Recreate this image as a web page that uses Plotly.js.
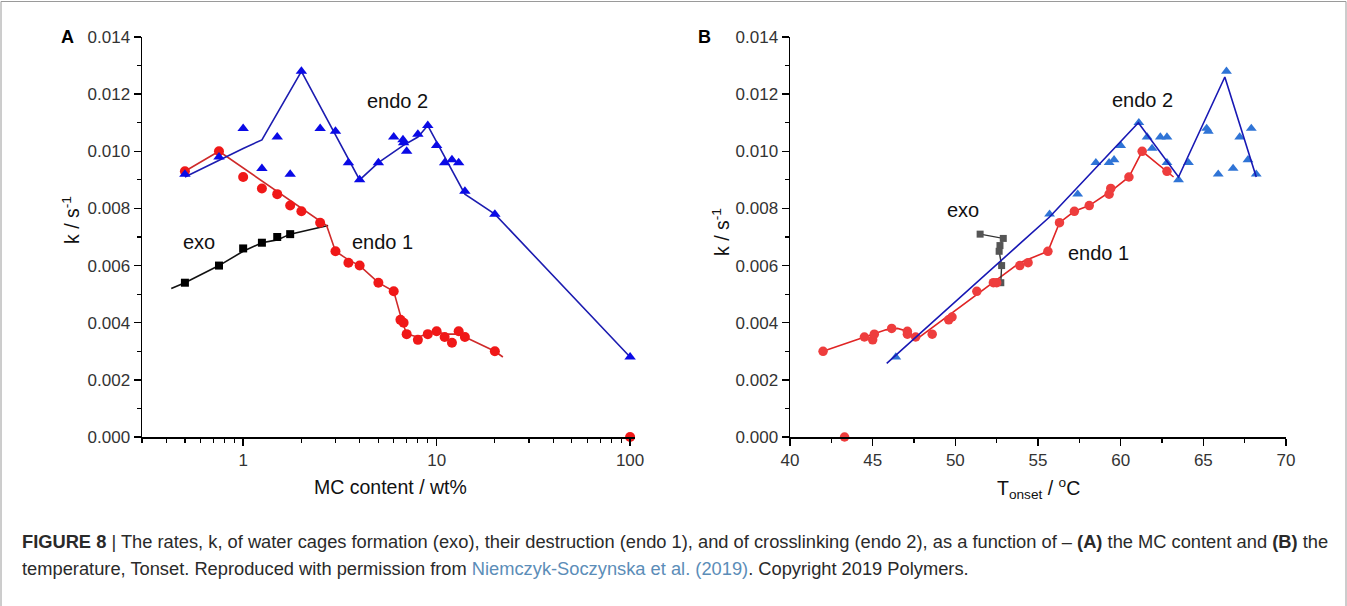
<!DOCTYPE html>
<html>
<head>
<meta charset="utf-8">
<script src="https://cdn.plot.ly/plotly-3.0.1.min.js"></script>
<style>
html,body{margin:0;padding:0;background:#fff;}
#chart{width:1347px;height:606px;}
</style>
</head>
<body>
<div id="chart"></div>
<script>
// ---------- Panel A: k vs MC content (log x) ----------
const mcEndo2 = [0.5,0.75,1,1.25,1.5,1.75,2,2.5,3,3.5,4,5,6,6.7,6.75,7,8,9,10,11,12,13,14,20,100];
const kEndo2A = [0.0092,0.0098,0.0108,0.0094,0.0105,0.0092,0.0128,0.0108,0.0107,0.0096,0.0090,0.0096,0.0105,0.0104,0.0103,0.0100,0.0106,0.0109,0.0102,0.0096,0.0097,0.0096,0.0086,0.0078,0.0028];
const mcEndo1 = [0.5,0.75,1,1.25,1.5,1.75,2,2.5,3,3.5,4,5,6,6.5,6.75,7,8,9,10,11,12,13,14,20,100];
const kEndo1A = [0.0093,0.0100,0.0091,0.0087,0.0085,0.0081,0.0079,0.0075,0.0065,0.0061,0.0060,0.0054,0.0051,0.0041,0.0040,0.0036,0.0034,0.0036,0.0037,0.0035,0.0033,0.0037,0.0035,0.0030,0.0000];
const mcExo = [0.5,0.75,1,1.25,1.5,1.75];
const kExoA = [0.0054,0.0060,0.0066,0.0068,0.0070,0.0071];
// guide lines, panel A
const lineEndo2A_x = [0.5,0.75,1,1.25,2,4,5,6.7,8,9,14,20,100];
const lineEndo2A_y = [0.0091,0.0097,0.0101,0.0104,0.0128,0.0090,0.0096,0.0102,0.0105,0.0109,0.0085,0.0078,0.0028];
const lineEndo1A_x = [0.5,0.75,2.7,3,3.5,4,5,6,6.6,7,8,9,10,11,13,14,20,22];
const lineEndo1A_y = [0.0093,0.0100,0.0074,0.0065,0.0062,0.0060,0.0054,0.0051,0.0041,0.0036,0.0035,0.0036,0.0037,0.0036,0.0036,0.0035,0.0030,0.0028];
const lineExoA_x = [0.425,0.5,0.75,1,1.25,1.5,1.75,2.75];
const lineExoA_y = [0.0052,0.0054,0.0060,0.0065,0.0068,0.0069,0.0071,0.0074];

// ---------- Panel B: k vs T onset ----------
const tEndo1 = [42,43.3,44.5,45,45.1,46.15,47.1,47.1,47.6,48.6,49.6,49.8,51.3,52.3,52.5,53.9,54.4,55.6,56.3,57.2,58.1,59.3,59.4,60.5,61.3,62.8];
const kEndo1B = [0.0030,0.0000,0.0035,0.0034,0.0036,0.0038,0.0037,0.0036,0.0035,0.0036,0.0041,0.0042,0.0051,0.0054,0.0054,0.0060,0.0061,0.0065,0.0075,0.0079,0.0081,0.0085,0.0087,0.0091,0.0100,0.0093];
const tEndo2 = [46.4,55.7,57.4,58.5,59.3,59.6,60.0,61.1,61.6,61.9,62.4,62.8,62.8,63.5,64.1,65.2,65.3,65.9,66.4,66.8,67.2,67.7,67.9,68.2];
const kEndo2B = [0.0028,0.0078,0.0085,0.0096,0.0096,0.0097,0.0102,0.0110,0.0105,0.0101,0.0105,0.0105,0.0096,0.0090,0.0096,0.0108,0.0107,0.0092,0.0128,0.0094,0.0105,0.0097,0.0108,0.0092];
const tExo = [51.5,52.9,52.7,52.65,52.8,52.75];
const kExoB = [0.0071,0.00695,0.0067,0.0065,0.0060,0.0054];
// guide lines, panel B
const lineEndo1B_x = [42,44.6,45.8,46.5,47.1,47.6,53.9,55.6,56.3,57.2,58.1,59.4,60.5,61.3,63.2];
const lineEndo1B_y = [0.0030,0.0035,0.00375,0.0038,0.0037,0.0034,0.0061,0.0065,0.0075,0.0079,0.0081,0.0086,0.0091,0.0100,0.0091];
const lineEndo2B_x = [45.85,55.7,61.07,63.5,66.3,68.2];
const lineEndo2B_y = [0.00258,0.0077,0.0110,0.0091,0.0126,0.0091];

const yTicks = [0,0.002,0.004,0.006,0.008,0.010,0.012,0.014];
const xTicksA = [1,10,100];
const xTickTextA = ['1','10','100'];
const xMinorA = [0.3,0.4,0.5,0.6,0.7,0.8,0.9,2,3,4,5,6,7,8,9,20,30,40,50,60,70,80,90];
const xTicksB = [40,45,50,55,60,65,70];

const FONT = 'Liberation Sans, Arial, Helvetica, sans-serif';

function line(x,y,color,xa,ya,w){
  return {x:x,y:y,mode:'lines',type:'scatter',xaxis:xa,yaxis:ya,
    line:{color:color,width:w||1.6},hoverinfo:'skip',showlegend:false};
}
function pts(x,y,sym,color,size,xa,ya){
  return {x:x,y:y,mode:'markers',type:'scatter',xaxis:xa,yaxis:ya,cliponaxis:false,
    marker:{symbol:sym,color:color,size:size,line:{width:0}},showlegend:false};
}

const traces = [
  line(lineExoA_x,lineExoA_y,'#111111','x','y',1.6),
  line(lineEndo1A_x,lineEndo1A_y,'#cf2a2a','x','y',1.6),
  line(lineEndo2A_x,lineEndo2A_y,'#1c1cb0','x','y',1.6),
  pts(mcExo,kExoA,'square','#000000',8,'x','y'),
  pts(mcEndo1,kEndo1A,'circle','#f01818',10,'x','y'),
  pts(mcEndo2,kEndo2A,'triangle-up','#0a0ae6',10,'x','y'),

  line(lineEndo1B_x,lineEndo1B_y,'#e02424','x2','y2',1.6),
  line(tExo,kExoB,'#333333','x2','y2',1.4),
  pts(tExo,kExoB,'square','#555555',7,'x2','y2'),
  pts(tEndo1,kEndo1B,'circle','#ee3d3d',9.5,'x2','y2'),
  pts(tEndo2,kEndo2B,'triangle-up','#2f74d6',9.5,'x2','y2'),
  line(lineEndo2B_x,lineEndo2B_y,'#1818b4','x2','y2',1.6)
];

const W = 1347, H = 606;
const px = v => v / W;
const py = v => 1 - v / H;

const tickFont = {family:FONT,size:17,color:'#333'};
const yAxisCommon = {
  range:[0,0.014], tickvals:yTicks, tickformat:'.3f',
  ticks:'outside', ticklen:7, tickwidth:1.5, tickcolor:'#000',
  minor:{dtick:0.001, ticks:'outside', ticklen:4, tickwidth:1.2, tickcolor:'#000', showgrid:false},
  showline:true, linecolor:'#000', linewidth:1.5,
  showgrid:false, zeroline:false, tickfont:tickFont, fixedrange:true
};

function note(text, x, y, size, extra){
  return Object.assign({text:text, x:px(x), y:py(y), xref:'paper', yref:'paper',
    xanchor:'center', yanchor:'middle', showarrow:false,
    font:{family:FONT, size:size, color:'#111'}}, extra||{});
}

const layout = {
  width:W, height:H,
  margin:{l:0,r:0,t:0,b:0},
  paper_bgcolor:'#fff', plot_bgcolor:'rgba(0,0,0,0)',
  showlegend:false,
  font:{family:FONT,color:'#222',size:14},
  xaxis:{
    type:'log', range:[Math.log10(0.3), Math.log10(106)],
    domain:[px(142), px(635)], anchor:'y',
    tickmode:'array', tickvals:xTicksA, ticktext:xTickTextA,
    ticks:'outside', ticklen:7, tickwidth:1.5, tickcolor:'#000',
    minor:{tickmode:'array', tickvals:xMinorA, ticks:'outside', ticklen:4, tickwidth:1.2, tickcolor:'#000', showgrid:false},
    showline:true, linecolor:'#000', linewidth:1.5,
    showgrid:false, zeroline:false, tickfont:tickFont, fixedrange:true
  },
  yaxis:Object.assign({domain:[py(437), py(37)], anchor:'x'}, yAxisCommon),
  xaxis2:{
    range:[40,70], domain:[px(790), px(1286)], anchor:'y2',
    tickvals:xTicksB,
    ticks:'outside', ticklen:7, tickwidth:1.5, tickcolor:'#000',
    minor:{dtick:2.5, ticks:'outside', ticklen:4, tickwidth:1.2, tickcolor:'#000', showgrid:false},
    showline:true, linecolor:'#000', linewidth:1.5,
    showgrid:false, zeroline:false, tickfont:tickFont, fixedrange:true
  },
  yaxis2:Object.assign({domain:[py(437), py(37)], anchor:'x2'}, yAxisCommon),
  shapes:[
    {type:'rect', xref:'paper', yref:'paper', x0:px(1), x1:px(1346), y0:-0.05, y1:py(1.5),
     line:{color:'#9a9a9a', width:1}, fillcolor:'rgba(0,0,0,0)', layer:'below'}
  ],
  annotations:[
    note('<b>A</b>', 67, 37, 18, {font:{family:FONT,size:18,color:'#000'}}),
    note('<b>B</b>', 704, 37, 18, {font:{family:FONT,size:18,color:'#000'}}),
    note('k / s<sup>-1</sup>', 71, 220, 19.5, {textangle:-90}),
    note('k / s<sup>-1</sup>', 721, 232, 19.5, {textangle:-90}),
    note('MC content / wt%', 390, 487, 19.5),
    note('T<sub>onset</sub> / <sup>o</sup>C', 1038, 488, 19.5),
    note('endo 2', 397, 101, 20),
    note('exo', 199, 242, 20),
    note('endo 1', 382, 242, 20),
    note('exo', 963, 210, 20),
    note('endo 2', 1142, 100, 20),
    note('endo 1', 1098, 253, 20),
    note('<b>FIGURE 8</b> | The rates, k, of water cages formation (exo), their destruction (endo 1), and of crosslinking (endo 2), as a function of \u2013 <b>(A)</b> the MC content and <b>(B)</b> the',
      20, 541, 18.3, {xanchor:'left', font:{family:FONT,size:18.3,color:'#2a2a2a'}}),
    note('temperature, Tonset. Reproduced with permission from <span style="color:#5b8db8">Niemczyk-Soczynska et al. (2019)</span>. Copyright 2019 Polymers.',
      20, 568, 18.3, {xanchor:'left', font:{family:FONT,size:18.3,color:'#2a2a2a'}})
  ]
};

Plotly.newPlot('chart', traces, layout, {staticPlot:true, displayModeBar:false});
</script>
</body>
</html>
